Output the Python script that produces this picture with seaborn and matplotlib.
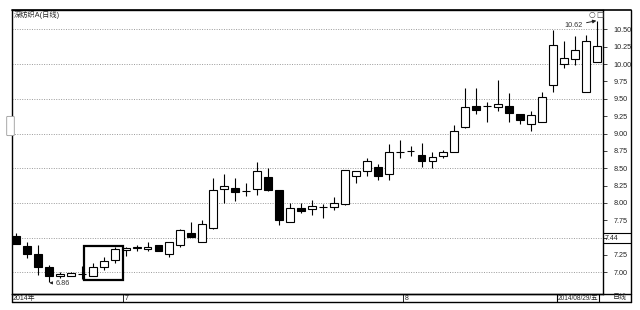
import numpy as np
import pandas as pd
import matplotlib
matplotlib.use("Agg")
import matplotlib.pyplot as plt
import matplotlib.transforms as mtransforms
from matplotlib.patches import Rectangle, FancyBboxPatch
from matplotlib.lines import Line2D
import seaborn as sns

# ---------------- data ----------------
opens = [7.52, 7.38, 7.27, 7.07, 6.94, 6.95, 6.97, 6.95, 7.07, 7.18,
         7.32, 7.35, 7.33, 7.39, 7.27, 7.40, 7.57, 7.44, 7.64, 8.20,
         8.21, 8.17, 8.20, 8.38, 8.19, 7.72, 7.92, 7.91, 7.94, 7.94,
         7.99, 8.39, 8.46, 8.52, 8.41, 8.74, 8.75, 8.69, 8.60, 8.68,
         8.73, 9.10, 9.40, 9.39, 9.38, 9.40, 9.28, 9.14, 9.17, 9.70,
         10.00, 10.08, 9.60, 10.03]
highs = [7.57, 7.43, 7.39, 7.10, 7.00, 7.00, 7.09, 7.13, 7.22, 7.37,
         7.36, 7.39, 7.43, 7.40, 7.43, 7.62, 7.72, 7.76, 8.36, 8.41,
         8.36, 8.28, 8.59, 8.50, 8.19, 8.00, 8.00, 8.04, 7.99, 8.08,
         8.47, 8.46, 8.64, 8.56, 8.85, 8.91, 8.82, 8.86, 8.74, 8.76,
         9.12, 9.65, 9.65, 9.46, 9.77, 9.58, 9.28, 9.33, 9.60, 10.49,
         10.34, 10.40, 10.42, 10.62]
lows = [7.41, 7.21, 6.96, 6.86, 6.92, 6.94, 6.91, 6.95, 7.03, 7.14,
        7.23, 7.31, 7.30, 7.30, 7.22, 7.37, 7.51, 7.44, 7.62, 8.00,
        8.03, 8.10, 8.11, 8.17, 7.68, 7.72, 7.85, 7.83, 7.78, 7.90,
        7.97, 8.28, 8.39, 8.33, 8.33, 8.65, 8.68, 8.52, 8.50, 8.64,
        8.73, 9.08, 9.28, 9.17, 9.33, 9.16, 9.14, 9.03, 9.17, 9.60,
        9.95, 9.99, 9.60, 10.03]
closes = [7.41, 7.26, 7.07, 6.95, 6.97, 6.99, 6.97, 7.07, 7.16, 7.33,
          7.35, 7.36, 7.37, 7.30, 7.43, 7.61, 7.51, 7.69, 8.18, 8.24,
          8.16, 8.17, 8.46, 8.19, 7.75, 7.92, 7.88, 7.95, 7.94, 8.00,
          8.47, 8.46, 8.61, 8.39, 8.73, 8.74, 8.75, 8.61, 8.66, 8.73,
          9.04, 9.38, 9.34, 9.39, 9.42, 9.29, 9.19, 9.26, 9.52, 10.28,
          10.09, 10.20, 10.34, 10.26]

price_ticks = [7.00, 7.25, 7.50, 7.75, 8.00, 8.25, 8.50, 8.75,
               9.00, 9.25, 9.50, 9.75, 10.00, 10.25, 10.50]
grid_levels = [7.0, 7.5, 8.0, 8.5, 9.0, 9.5, 10.0, 10.5]
month_labels = ["7", "8"]
month_pos = [9.75, 35.3]
year_label = "2014年"
last_date = "2014/08/29/五"
period_label = "日线"
title = "深纺织A(日线)"
high_mark = 10.62
low_mark = 6.86
cursor_price = 7.44

# ---------------- styling ----------------
sns.set_theme(style="white")
plt.rcParams['font.family'] = ['Liberation Sans', 'Noto Sans CJK SC', 'DejaVu Sans']

W, H = 640, 310
fig = plt.figure(figsize=(6.4, 3.1), dpi=100)
fig.patch.set_facecolor("white")


def fx(px):
    return px / W


def fy(py):
    return 1 - py / H


def fline(x0, y0, x1, y1, lw=1.0, color="black"):
    fig.add_artist(Line2D([fx(x0), fx(x1)], [fy(y0), fy(y1)],
                          transform=fig.transFigure, color=color, lw=lw))


ax = fig.add_axes([fx(12), fy(294), fx(603) - fx(12), fy(10) - fy(294)])
ax.set_facecolor("white")

df = pd.DataFrame({"o": opens, "h": highs, "l": lows, "c": closes})
df["i"] = np.arange(len(df))
up = df["c"] >= df["o"]
dn = ~up

ax.vlines(df["i"], df["l"], df["h"], color="black", lw=0.8, zorder=2)
ax.bar(df["i"][up], (df["c"] - df["o"])[up], bottom=df["o"][up], width=0.72,
       facecolor="white", edgecolor="black", lw=0.8, zorder=3)
ax.bar(df["i"][dn], (df["o"] - df["c"])[dn], bottom=df["c"][dn], width=0.72,
       facecolor="black", edgecolor="black", lw=0.8, zorder=3)

for g in grid_levels:
    ax.axhline(g, color="#9a9a9a", lw=0.7, ls=(0, (1, 1.5)), zorder=1)

ax.set_xlim(-0.365, 53.56)
ax.set_ylim(6.687, 10.78)
ax.set_xticks([])
ax.yaxis.tick_right()
ax.set_yticks(price_ticks)
# the label next to the cursor-price box is hidden by that box in the reference
ax.set_yticklabels(["" if abs(v - cursor_price) < 0.1 else f"{v:.2f}"
                    for v in price_ticks])
ax.tick_params(axis="y", direction="out", length=3, width=0.6, pad=4.5,
               labelsize=5.2, colors="#222222", right=True, left=False)
for s in ax.spines.values():
    s.set_visible(True)
    s.set_color("black")
    s.set_linewidth(1.0)

# highlighted box
ax.add_patch(Rectangle((6.2, 6.89), 3.56, 0.49, fill=False, lw=1.6,
                       ec="black", zorder=4))

# high/low annotations
ax.annotate(f"{high_mark:.2f}", xy=(52.95, 10.625), xytext=(51.7, 10.56),
            fontsize=5.2, color="#333333", va="center", ha="right",
            arrowprops=dict(arrowstyle="-|>", lw=0.7, color="#222222",
                            mutation_scale=5, shrinkA=0.5, shrinkB=0))
ax.annotate(f"{low_mark:.2f}", xy=(3.05, 6.848), xytext=(3.6, 6.845),
            fontsize=5.2, color="#333333", va="center", ha="left",
            arrowprops=dict(arrowstyle="-|>", lw=0.6, color="#222222",
                            mutation_scale=4, shrinkA=0, shrinkB=0))

# bottom strip labels (x in data, y in figure)
blend = mtransforms.blended_transform_factory(ax.transData, fig.transFigure)
ax.text(-0.27, fy(298), year_label, transform=blend, fontsize=5,
        va="center", ha="left", clip_on=False)
for pos, lab in zip(month_pos, month_labels):
    ax.plot([pos, pos], [fy(294), fy(302)], transform=blend, color="black",
            lw=0.6, clip_on=False)
    ax.text(pos + 0.15, fy(298), lab, transform=blend, fontsize=5,
            va="center", ha="left", clip_on=False)

# frame pieces outside the main axes
fline(12, 10, 631, 10, lw=1.2)
fline(631, 10, 631, 302)
fline(12, 294, 631, 294)
fline(12, 302, 631, 302)
fline(12, 294, 12, 302)
fline(557, 294, 557, 302, lw=0.8)
fline(599, 294, 599, 302, lw=0.8)

fig.text(fx(557.5), fy(298), last_date, fontsize=4.7, va="center", ha="left")
fig.text(fx(620), fy(298), period_label, fontsize=5, va="center", ha="center")

# cursor price box
fline(603, 233.3, 631, 233.3, lw=0.8)
fline(603, 242.7, 631, 242.7, lw=0.8)
fig.text(fx(605), fy(238), f"{cursor_price:.2f}", fontsize=5, va="center",
         ha="left")

# title
fig.text(fx(14), fy(15), title, fontsize=5.2, va="center", ha="left")

# small icons top right
fig.text(fx(592), fy(14), "○", fontsize=5.5, va="center", ha="center",
         family="DejaVu Sans", color="#444444")
fig.text(fx(600), fy(14), "□", fontsize=5.5, va="center", ha="center",
         family="DejaVu Sans", color="#444444")

# small side tab at left edge
fig.add_artist(FancyBboxPatch((fx(8), fy(135)), fx(5), fy(117) - fy(135),
                              boxstyle="round,pad=0.002",
                              transform=fig.transFigure, fc="white",
                              ec="#999999", lw=0.6))

fig.savefig("out.png", dpi=100)
